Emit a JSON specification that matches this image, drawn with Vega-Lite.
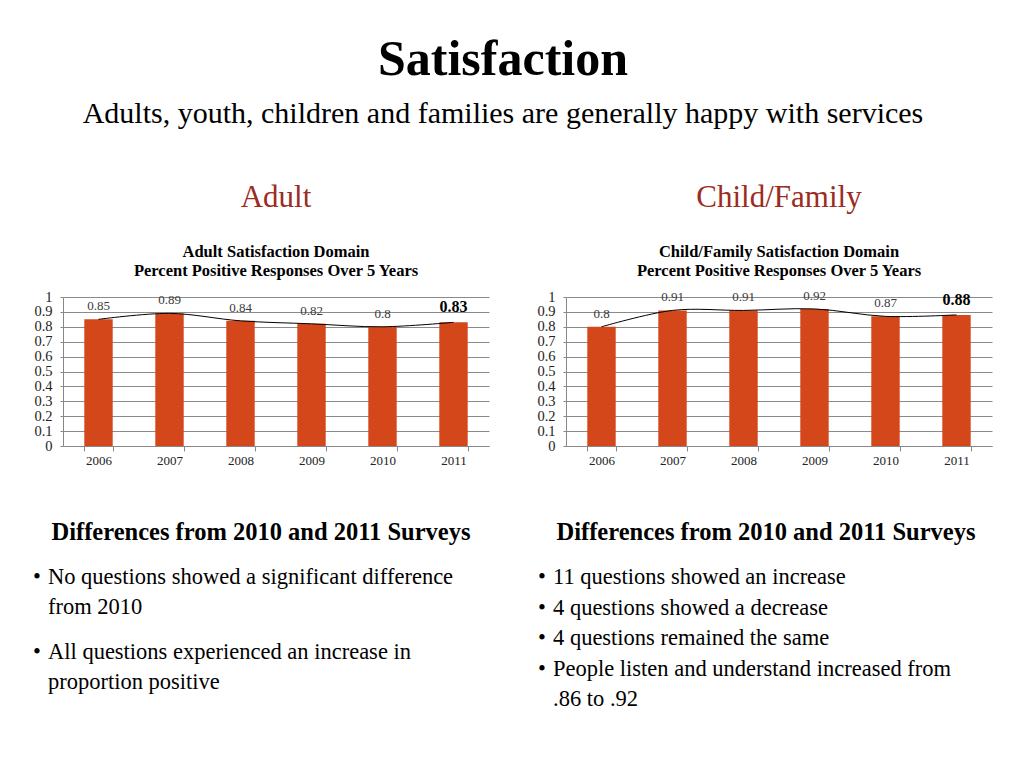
{
  "$schema": "https://vega.github.io/schema/vega-lite/v6.json",
  "background": "white",
  "padding": {"left": 33, "top": 34, "right": 10, "bottom": 10},
  "title": {
    "text": "Satisfaction",
    "subtitle": "Adults, youth, children and families are generally happy with services",
    "font": "Liberation Serif", "fontSize": 50, "fontWeight": "bold", "color": "black",
    "subtitleFont": "Liberation Serif", "subtitleFontSize": 30, "subtitleFontWeight": "normal",
    "subtitleColor": "black", "subtitlePadding": 14, "offset": 53, "anchor": "middle", "dx": -9.5
  },
  "datasets": {
    "adult": [
      {"year": "2006", "value": 0.85},
      {"year": "2007", "value": 0.89},
      {"year": "2008", "value": 0.84},
      {"year": "2009", "value": 0.82},
      {"year": "2010", "value": 0.8},
      {"year": "2011", "value": 0.83}
    ],
    "child": [
      {"year": "2006", "value": 0.8},
      {"year": "2007", "value": 0.91},
      {"year": "2008", "value": 0.91},
      {"year": "2009", "value": 0.92},
      {"year": "2010", "value": 0.87},
      {"year": "2011", "value": 0.88}
    ],
    "adultText": [
      {"panel": "adult", "para": 1, "text": "No questions showed a significant difference\nfrom 2010"},
      {"panel": "adult", "para": 2, "text": "All questions experienced an increase in\nproportion positive"}
    ],
    "childText": [
      {"panel": "child", "para": 1, "text": "11 questions showed an increase"},
      {"panel": "child", "para": 2, "text": "4 questions showed a decrease"},
      {"panel": "child", "para": 3, "text": "4 questions remained the same"},
      {"panel": "child", "para": 4, "text": "People listen and understand increased from\n.86 to .92"}
    ]
  },
  "spacing": 52,
  "vconcat": [
    {
      "spacing": 47,
      "hconcat": [
        {
          "data": {"name": "adult"},
          "width": 426,
          "height": 149,
          "title": {"text": "Adult", "subtitle": ["Adult Satisfaction Domain", "Percent Positive Responses Over 5 Years"]},
          "encoding": {
            "x": {"field": "year", "type": "ordinal", "scale": {"paddingInner": 0.6, "paddingOuter": 0.3}},
            "y": {"field": "value", "type": "quantitative", "scale": {"domain": [0, 1]},
                  "axis": {"values": [0, 0.1, 0.2, 0.3, 0.4, 0.5, 0.6, 0.7, 0.8, 0.9, 1], "format": "~g"}}
          },
          "layer": [
            {"mark": {"type": "bar", "color": "#D4471A"}},
            {"mark": {"type": "line", "interpolate": "cardinal", "color": "black", "strokeWidth": 1}},
            {
              "transform": [{"filter": "datum.year !== '2011'"}],
              "mark": {"type": "text", "baseline": "middle", "dy": -13, "font": "Liberation Serif", "fontSize": 13, "color": "#3a3a3a"},
              "encoding": {"text": {"field": "value", "type": "quantitative", "format": "~g"}}
            },
            {
              "transform": [{"filter": "datum.year === '2011'"}],
              "mark": {"type": "text", "baseline": "middle", "dy": -15, "font": "Liberation Serif", "fontSize": 16, "fontWeight": "bold", "color": "black"},
              "encoding": {"text": {"field": "value", "type": "quantitative", "format": "~g"}}
            }
          ]
        },
        {
          "data": {"name": "child"},
          "width": 426,
          "height": 149,
          "title": {"text": "Child/Family", "subtitle": ["Child/Family Satisfaction Domain", "Percent Positive  Responses Over 5 Years"]},
          "encoding": {
            "x": {"field": "year", "type": "ordinal", "scale": {"paddingInner": 0.6, "paddingOuter": 0.3}},
            "y": {"field": "value", "type": "quantitative", "scale": {"domain": [0, 1]},
                  "axis": {"values": [0, 0.1, 0.2, 0.3, 0.4, 0.5, 0.6, 0.7, 0.8, 0.9, 1], "format": "~g"}}
          },
          "layer": [
            {"mark": {"type": "bar", "color": "#D4471A"}},
            {"mark": {"type": "line", "interpolate": "cardinal", "color": "black", "strokeWidth": 1}},
            {
              "transform": [{"filter": "datum.year !== '2011'"}],
              "mark": {"type": "text", "baseline": "middle", "dy": -13, "font": "Liberation Serif", "fontSize": 13, "color": "#3a3a3a"},
              "encoding": {"text": {"field": "value", "type": "quantitative", "format": "~g"}}
            },
            {
              "transform": [{"filter": "datum.year === '2011'"}],
              "mark": {"type": "text", "baseline": "middle", "dy": -15, "font": "Liberation Serif", "fontSize": 16, "fontWeight": "bold", "color": "black"},
              "encoding": {"text": {"field": "value", "type": "quantitative", "format": "~g"}}
            }
          ]
        }
      ]
    },
    {
      "spacing": 67,
      "hconcat": [
        {
          "data": {"name": "adultText"},
          "width": 396,
          "height": 75,
          "title": {"text": "Differences from 2010 and 2011 Surveys", "fontSize": 24.5, "fontWeight": "bold", "color": "black", "offset": 21, "subtitle": "", "frame": "group"},
          "encoding": {
            "x": {"field": "panel", "type": "nominal", "axis": null, "scale": {"type": "point", "padding": 0, "align": 0}},
            "y": {"field": "para", "type": "ordinal", "axis": null, "scale": {"type": "point", "padding": 0}}
          },
          "layer": [
            {"mark": {"type": "text", "align": "left", "baseline": "top", "font": "Liberation Serif", "fontSize": 22.5, "text": "•", "color": "black", "dx": -30}},
            {
              "mark": {"type": "text", "align": "left", "baseline": "top", "font": "Liberation Serif", "fontSize": 22.5, "lineBreak": "\n", "lineHeight": 30, "dx": -15, "color": "black"},
              "encoding": {"text": {"field": "text"}}
            }
          ]
        },
        {
          "data": {"name": "childText"},
          "width": 396,
          "height": 92,
          "title": {"text": "Differences from 2010 and 2011 Surveys", "fontSize": 24.5, "fontWeight": "bold", "color": "black", "offset": 21, "subtitle": "", "frame": "group"},
          "encoding": {
            "x": {"field": "panel", "type": "nominal", "axis": null, "scale": {"type": "point", "padding": 0, "align": 0}},
            "y": {"field": "para", "type": "ordinal", "axis": null, "scale": {"type": "point", "padding": 0}}
          },
          "layer": [
            {"mark": {"type": "text", "align": "left", "baseline": "top", "font": "Liberation Serif", "fontSize": 22.5, "text": "•", "color": "black", "dx": -30}},
            {
              "mark": {"type": "text", "align": "left", "baseline": "top", "font": "Liberation Serif", "fontSize": 22.5, "lineBreak": "\n", "lineHeight": 30, "dx": -15, "color": "black"},
              "encoding": {"text": {"field": "text"}}
            }
          ]
        }
      ]
    }
  ],
  "config": {
    "view": {"stroke": null},
    "font": "Liberation Serif",
    "title": {
      "font": "Liberation Serif", "fontSize": 31, "fontWeight": "normal", "color": "#9C2B23",
      "subtitleFont": "Liberation Serif", "subtitleFontSize": 16.5, "subtitleFontWeight": "bold",
      "subtitleColor": "black", "subtitleLineHeight": 19, "subtitlePadding": 30, "offset": 9, "anchor": "middle"
    },
    "axisX": {
      "title": null, "labelAngle": 0, "labelFont": "Liberation Serif", "labelFontSize": 13, "labelColor": "#222",
      "tickBand": "extent", "domainColor": "#888", "tickColor": "#888", "tickSize": 5, "labelPadding": 3, "grid": false
    },
    "axisY": {
      "title": null,
      "labelFont": "Liberation Serif", "labelFontSize": 14.5, "labelColor": "#222",
      "grid": true, "gridColor": "#8a8a8a", "domainColor": "#888", "tickColor": "#888", "tickSize": 3, "labelPadding": 8
    }
  }
}
